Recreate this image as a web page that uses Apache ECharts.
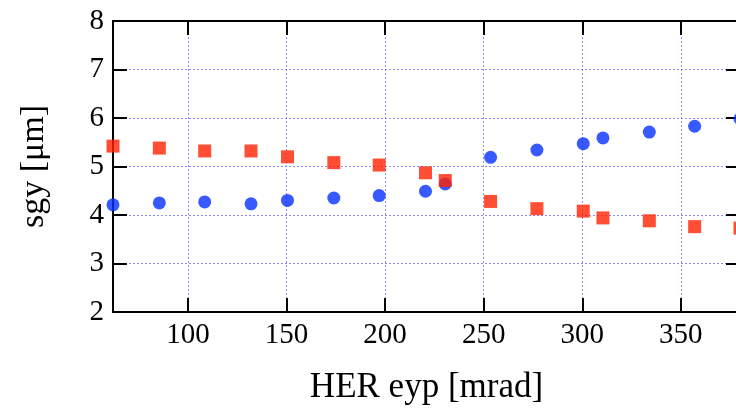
<!DOCTYPE html>
<html>
<head>
<meta charset="utf-8">
<script src="https://cdn.jsdelivr.net/npm/echarts@6/dist/echarts.min.js"></script>
<style>
  html, body { margin: 0; padding: 0; background: #fff; }
  #chart { width: 736px; height: 409px; }
</style>
</head>
<body>
<div id="chart"></div>
<script>
// HER vertical emittance scan: measured beam size for two configurations
const eypValues = [62, 85.5, 108.5, 132, 150.5, 174, 197, 220.5, 230.5, 253.5, 277, 300.5, 310.5, 334, 357, 380];
const sgyBlue   = [4.21, 4.25, 4.27, 4.23, 4.30, 4.35, 4.40, 4.49, 4.64, 5.19, 5.34, 5.47, 5.59, 5.71, 5.83, 5.98];
const sgyRed    = [5.42, 5.38, 5.32, 5.32, 5.20, 5.08, 5.03, 4.87, 4.71, 4.28, 4.13, 4.08, 3.94, 3.88, 3.76, 3.73];
const xTicks    = [100, 150, 200, 250, 300, 350];
const yTicks    = [2, 3, 4, 5, 6, 7, 8];

const serif = 'Liberation Serif';
const gridLine = { show: true, lineStyle: { color: '#8c8cff', width: 1, type: [2, 2] } };
const tickStyle = { show: true, inside: true, length: 14, lineStyle: { color: '#000', width: 2 } };
const axisLineStyle = { show: true, lineStyle: { color: '#000', width: 2 } };

const chart = echarts.init(document.getElementById('chart'), null, { renderer: 'canvas' });
chart.setOption({
  backgroundColor: '#fff',
  animation: false,
  grid: { left: 113, top: 21, width: 627, height: 291, containLabel: false, outerBoundsMode: 'none' },
  xAxis: [
    {
      type: 'value', position: 'bottom', min: 62, max: 380,
      name: 'HER eyp [mrad]', nameLocation: 'middle', nameGap: 58,
      nameTextStyle: { fontFamily: serif, fontSize: 35, color: '#000' },
      axisLine: axisLineStyle,
      axisTick: Object.assign({ customValues: xTicks }, tickStyle),
      axisLabel: { customValues: xTicks, margin: 9, fontFamily: serif, fontSize: 29, color: '#000' },
      splitLine: gridLine
    },
    {
      type: 'value', position: 'top', min: 62, max: 380,
      axisLine: axisLineStyle,
      axisTick: Object.assign({ customValues: xTicks }, tickStyle),
      axisLabel: { show: false },
      splitLine: { show: false }
    }
  ],
  yAxis: [
    {
      type: 'value', position: 'left', min: 2, max: 8, interval: 1,
      name: 'sgy [μm]', nameLocation: 'middle', nameGap: 62, nameRotate: 90,
      nameTextStyle: { fontFamily: serif, fontSize: 34, color: '#000' },
      axisLine: axisLineStyle,
      axisTick: tickStyle,
      axisLabel: { margin: 9, fontFamily: serif, fontSize: 29, color: '#000',
                   formatter: v => (yTicks.indexOf(v) >= 0 ? String(v) : '') },
      splitLine: gridLine
    },
    {
      type: 'value', position: 'right', min: 2, max: 8, interval: 1,
      axisLine: axisLineStyle,
      axisTick: tickStyle,
      axisLabel: { show: false },
      splitLine: { show: false }
    }
  ],
  series: [
    {
      type: 'scatter', xAxisIndex: 0, yAxisIndex: 0, clip: false,
      symbol: 'circle', symbolSize: 13,
      itemStyle: { color: '#0530ff' },
      data: eypValues.map((x, i) => [x, sgyBlue[i]])
    },
    {
      type: 'scatter', xAxisIndex: 0, yAxisIndex: 0, clip: false,
      symbol: 'rect', symbolSize: 13,
      itemStyle: { color: '#ff2200' },
      data: eypValues.map((x, i) => [x, sgyRed[i]])
    }
  ]
});
</script>
</body>
</html>
